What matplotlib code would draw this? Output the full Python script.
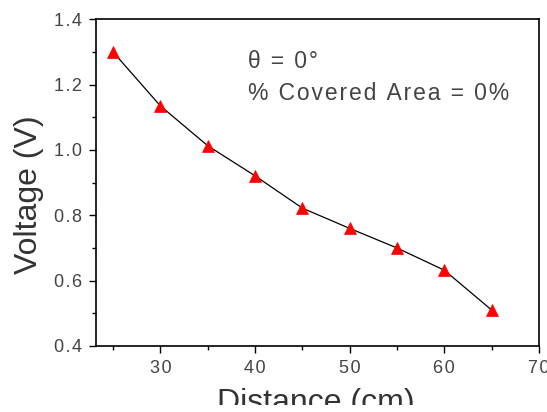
import matplotlib
matplotlib.use('Agg')
import matplotlib.pyplot as plt
from matplotlib.patches import Rectangle
from matplotlib.ticker import MultipleLocator, FuncFormatter

# data
distance = [25, 30, 35, 40, 45, 50, 55, 60, 65]
voltage = [1.30, 1.135, 1.013, 0.921, 0.822, 0.76, 0.70, 0.632, 0.51]

note_angle = "θ = 0°"
note_area = "% Covered Area = 0%"

plt.rcParams['font.family'] = ['Liberation Sans', 'DejaVu Sans']

HS = '\u200a'  # hair space, the original text is letter-spaced


def spaced(s, sep=HS):
    return sep.join(s)


fig = plt.figure(figsize=(5.47, 4.12), dpi=100)
ax = fig.add_axes([96 / 547, 66 / 412, 443 / 547, 326.7 / 412])

ax.plot(distance, voltage, color='black', lw=0.9, zorder=2)
ax.plot(distance, voltage, ls='none', marker='^', ms=8,
        mfc='red', mec='red', mew=0.5, zorder=3)

ax.set_xlim(23.2, 70)
ax.set_ylim(0.4, 1.4)
ax.xaxis.set_major_locator(MultipleLocator(10))
ax.xaxis.set_minor_locator(MultipleLocator(5))
ax.yaxis.set_major_locator(MultipleLocator(0.2))
ax.yaxis.set_minor_locator(MultipleLocator(0.1))
ax.xaxis.set_major_formatter(FuncFormatter(lambda v, p: spaced(f"{v:.0f}")))
ax.yaxis.set_major_formatter(FuncFormatter(lambda v, p: spaced(f"{v:.1f}")))

ax.tick_params(which='both', direction='out', top=False, right=False,
               width=1.0, colors='black', labelcolor='#444444',
               labelsize=13, pad=5)
ax.tick_params(which='major', length=5)
ax.tick_params(which='minor', length=3)
for s in ax.spines.values():
    s.set_linewidth(1.2)

ax.set_xlabel("Distance (cm)", fontsize=23, color='#333333')
ax.set_ylabel("Voltage (V)", fontsize=23, color='#333333')
ax.xaxis.set_label_coords(0.497, -0.13)
ax.yaxis.set_label_coords(-0.1185, 0.462)

ax.text(0.343, 0.872, spaced(note_angle), transform=ax.transAxes,
        fontsize=16.5, color='#444444', va='center', ha='left')
ax.text(0.343, 0.774, spaced(note_area), transform=ax.transAxes,
        fontsize=16.5, color='#444444', va='center', ha='left')

# the source image is cropped just under the x label
fig.patches.append(Rectangle((0, 0), 1, 7 / 412, transform=fig.transFigure,
                             facecolor='white', edgecolor='none', zorder=10))

fig.savefig('out.png', dpi=100)
